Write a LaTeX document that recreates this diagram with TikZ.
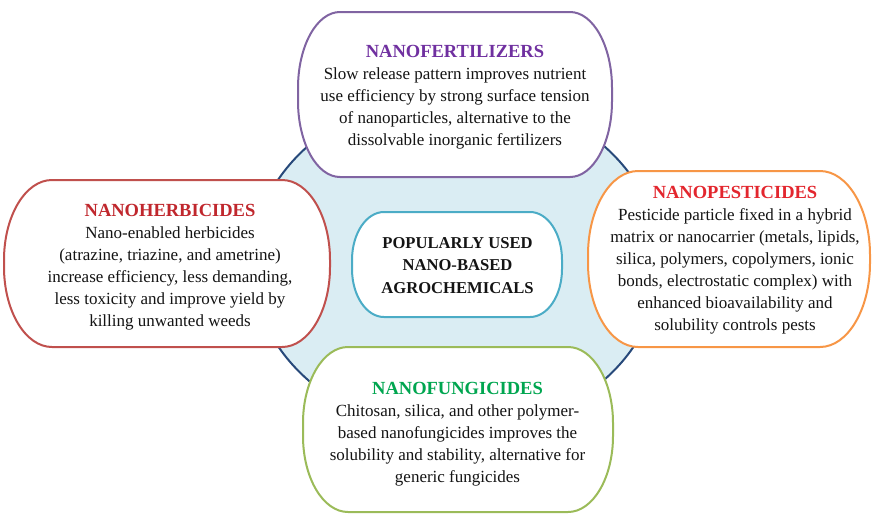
\documentclass[tikz,border=0pt]{standalone}
\usepackage{fontspec}
\setmainfont{Liberation Serif}
\usetikzlibrary{shapes.geometric,calc,backgrounds}
\definecolor{ringfill}{HTML}{DAEDF3}
\definecolor{ringline}{HTML}{27497A}
\definecolor{fertline}{HTML}{8064A2}
\definecolor{ferttext}{HTML}{7030A0}
\definecolor{herbline}{HTML}{C0504D}
\definecolor{herbtext}{HTML}{C0272D}
\definecolor{pestline}{HTML}{F79646}
\definecolor{pesttext}{HTML}{E3262E}
\definecolor{fungline}{HTML}{9BBB59}
\definecolor{fungtext}{HTML}{00A650}
\definecolor{hubline}{HTML}{4BACC6}
\definecolor{bodytext}{HTML}{141414}
% Stadium-like outline with elliptical ends around a text node:
% #1 node, #2 dx, #3 dy (offset of the outline centre), #4 half width,
% #5 half height, #6 x radius, #7 y radius of the corners, #8 colour
\newcommand\cardoutline[8]{%
  \draw[cardline=#8]
    ($(#1.center)+(#2-#4+#6,#3-#5)$) -- ($(#1.center)+(#2+#4-#6,#3-#5)$)
    arc[start angle=-90,end angle=0,x radius=#6,y radius=#7]
    -- ($(#1.center)+(#2+#4,#3+#5-#7)$)
    arc[start angle=0,end angle=90,x radius=#6,y radius=#7]
    -- ($(#1.center)+(#2-#4+#6,#3+#5)$)
    arc[start angle=90,end angle=180,x radius=#6,y radius=#7]
    -- ($(#1.center)+(#2-#4,#3-#5+#7)$)
    arc[start angle=180,end angle=270,x radius=#6,y radius=#7]
    -- cycle;}
\begin{document}
\begin{tikzpicture}[x=1pt,y=-1pt,
  cardline/.style={draw=#1, line width=2pt, fill=white},
  cardtext/.style={align=center, inner sep=0pt, text=bodytext,
    font=\fontsize{17}{22}\selectfont},
  head/.style={font=\fontsize{18.5}{22}\selectfont\bfseries}]
\useasboundingbox (0,0) rectangle (877,514);

% texts of the four cards and the central label
\node (fert) [cardtext] at (455,97)
  {{\fontsize{18.5}{22}\selectfont\bfseries\color{ferttext}NANOFERTILIZERS}\\
   Slow release pattern improves nutrient\\
   use efficiency by strong surface tension\\
   of nanoparticles, alternative to the\\
   dissolvable inorganic fertilizers};

\node (herb) [cardtext] at (170,267)
  {{\fontsize{18.5}{22}\selectfont\bfseries\color{herbtext}NANOHERBICIDES}\\
   Nano-enabled herbicides\\
   (atrazine, triazine, and ametrine)\\
   increase efficiency, less demanding,\\
   less toxicity and improve yield by\\
   killing unwanted weeds};

\node (pest) [cardtext] at (735,260.5)
  {{\fontsize{18.5}{22}\selectfont\bfseries\color{pesttext}NANOPESTICIDES}\\
   Pesticide particle fixed in a hybrid\\
   matrix or nanocarrier (metals, lipids,\\
   silica, polymers, copolymers, ionic\\
   bonds, electrostatic complex) with\\
   enhanced bioavailability and\\
   solubility controls pests};

\node (fung) [cardtext] at (457.5,434)
  {{\fontsize{18.5}{22}\selectfont\bfseries\color{fungtext}NANOFUNGICIDES}\\
   Chitosan, silica, and other polymer-\\
   based nanofungicides improves the\\
   solubility and stability, alternative for\\
   generic fungicides};

\node (hub) [cardtext, font=\fontsize{16.6}{22.5}\selectfont\bfseries]
  at (457.5,265.5)
  {POPULARLY USED\\NANO-BASED\\AGROCHEMICALS};

\begin{scope}[on background layer]
  % central disc behind the cards
  \node (ring) [ellipse, draw=ringline, fill=ringfill, line width=2pt,
    minimum width=408pt, minimum height=340pt, inner sep=0pt] at (456,263) {};
  \cardoutline{fert}{0}{-2.5}{157}{82.5}{42}{76}{fertline}
  \cardoutline{herb}{-3}{-3.5}{163}{83.5}{48}{80}{herbline}
  \cardoutline{pest}{-6}{-1.5}{141}{88}{50}{84}{pestline}
  \cardoutline{fung}{0.5}{-4.5}{155}{82.5}{45}{76}{fungline}
  \cardoutline{hub}{-0.5}{-1}{105}{52.5}{32}{48}{hubline}
\end{scope}
\end{tikzpicture}
\end{document}
